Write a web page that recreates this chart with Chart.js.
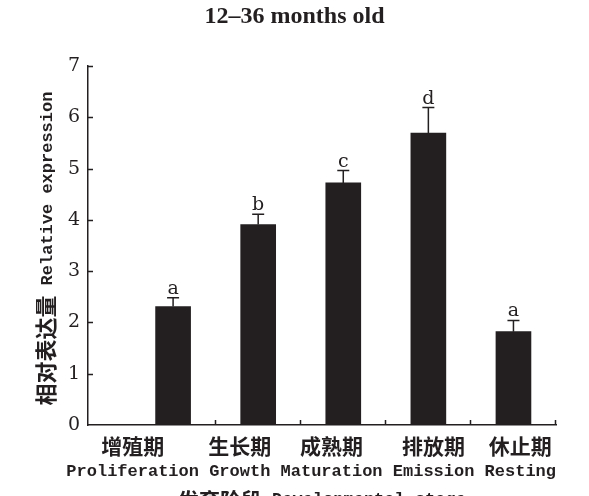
<!DOCTYPE html>
<html>
<head>
<meta charset="utf-8">
<script src="https://cdn.jsdelivr.net/npm/chart.js@4/dist/chart.umd.min.js"></script>
<style>
  html, body { margin: 0; padding: 0; background: #fff; overflow: hidden; }
  #wrap { width: 589px; height: 496px; }
</style>
</head>
<body>
<div id="wrap"><canvas id="chart" width="589" height="496"></canvas></div>
<script>
// ---- data ----
const chartTitle = '12\u201336 months old';
const stagesZh = ['增殖期', '生长期', '成熟期', '排放期', '休止期'];
const stagesEn = ['Proliferation', 'Growth', 'Maturation', 'Emission', 'Resting'];
const expression = [2.31, 3.91, 4.72, 5.69, 1.82];
const errorSD = [0.17, 0.20, 0.24, 0.50, 0.22];
const sigLetters = ['a', 'b', 'c', 'd', 'a'];
const yTitleZh = '相对表达量';
const yTitleEn = 'Relative expression';
const xTitleZh = '发育阶段';
const xTitleEn = 'Developmental stage';
const yMin = 0, yMax = 7, yStep = 1;

// ---- styling ----
const INK = '#231f20';
const MONO = '"Liberation Mono", "DejaVu Sans Mono", monospace';
const CJK = '"Noto Sans CJK SC", sans-serif';
const SERIF = '"Liberation Serif", serif';
const WIDE_SERIF = '"DejaVu Serif", serif';

// Error bars, significance letters, inward tick marks and all text labels
const decor = {
  id: 'decor',
  afterDatasetsDraw(chart) {
    const { ctx, chartArea: a, scales: { x, y } } = chart;
    ctx.save();
    ctx.strokeStyle = INK;
    ctx.fillStyle = INK;
    ctx.lineWidth = 1.5;

    // error bars with caps, letter above each cap
    expression.forEach((v, i) => {
      const cx = x.getPixelForValue(i);
      const yTop = y.getPixelForValue(v);
      const yErr = y.getPixelForValue(v + errorSD[i]);
      ctx.beginPath();
      ctx.moveTo(cx, yTop);
      ctx.lineTo(cx, yErr);
      ctx.moveTo(cx - 6, yErr);
      ctx.lineTo(cx + 6, yErr);
      ctx.stroke();
      ctx.font = `19px ${WIDE_SERIF}`;
      ctx.textAlign = 'center';
      ctx.textBaseline = 'alphabetic';
      ctx.fillText(sigLetters[i], cx, yErr - 4);
    });

    // inward ticks on the y axis
    ctx.beginPath();
    for (let v = yMin + yStep; v <= yMax; v += yStep) {
      const py = Math.round(y.getPixelForValue(v)) + 0.5;
      ctx.moveTo(a.left, py);
      ctx.lineTo(a.left + 5, py);
    }
    // inward ticks on the x axis, between categories
    stagesEn.forEach((_, i) => {
      const px = Math.round(x.getPixelForValue(i + 0.5)) - 0.5;
      ctx.moveTo(px, a.bottom);
      ctx.lineTo(px, a.bottom - 5);
    });
    ctx.stroke();
    ctx.restore();
  },
  afterDraw(chart) {
    const { ctx, chartArea: a, width } = chart;
    ctx.save();
    ctx.fillStyle = INK;

    // chart title
    ctx.font = `bold 24px ${SERIF}`;
    ctx.textAlign = 'center';
    ctx.textBaseline = 'top';
    ctx.fillText(chartTitle, width / 2, 5);

    // category labels: English names on one line ending at the axis end,
    // Chinese names centred over their English counterparts
    ctx.font = `bold 17px ${MONO}`;
    const enLine = stagesEn.join(' ');
    const lineStart = a.right - ctx.measureText(enLine).width;
    ctx.textAlign = 'left';
    ctx.textBaseline = 'alphabetic';
    ctx.fillText(enLine, lineStart, 476);
    const centres = stagesEn.map((w, i) => {
      const prefix = stagesEn.slice(0, i).join(' ') + (i ? ' ' : '');
      return lineStart + ctx.measureText(prefix).width + ctx.measureText(w).width / 2;
    });
    ctx.font = `bold 21px ${CJK}`;
    ctx.textAlign = 'center';
    ctx.textBaseline = 'middle';
    stagesZh.forEach((t, i) => ctx.fillText(t, centres[i], 446));

    // x axis title (Chinese part + English part)
    const gap = 10;
    ctx.font = `bold 21px ${CJK}`;
    const xzW = ctx.measureText(xTitleZh).width;
    ctx.font = `bold 17px ${MONO}`;
    const xeW = ctx.measureText(xTitleEn).width;
    let sx = (a.left + a.right) / 2 - (xzW + gap + xeW) / 2;
    ctx.textAlign = 'left';
    ctx.font = `bold 21px ${CJK}`;
    ctx.textBaseline = 'middle';
    ctx.fillText(xTitleZh, sx, 500);
    ctx.font = `bold 17px ${MONO}`;
    ctx.textBaseline = 'alphabetic';
    ctx.fillText(xTitleEn, sx + xzW + gap, 504);

    // y axis title, rotated
    ctx.font = `bold 22px ${CJK}`;
    const yzW = ctx.measureText(yTitleZh).width;
    ctx.font = `bold 17px ${MONO}`;
    const yeW = ctx.measureText(yTitleEn).width;
    ctx.translate(46, (a.top + a.bottom) / 2 + 3);
    ctx.rotate(-Math.PI / 2);
    const start = -(yzW + gap + yeW) / 2;
    ctx.textAlign = 'left';
    ctx.textBaseline = 'middle';
    ctx.font = `bold 22px ${CJK}`;
    ctx.fillText(yTitleZh, start, 0);
    ctx.font = `bold 17px ${MONO}`;
    ctx.textBaseline = 'alphabetic';
    ctx.fillText(yTitleEn, start + yzW + gap, 6);
    ctx.restore();
  }
};

new Chart(document.getElementById('chart'), {
  type: 'bar',
  data: {
    datasets: [{
      data: expression.map((v, i) => ({ x: i, y: v })),
      backgroundColor: INK,
      borderColor: INK,
      borderWidth: 0,
      barThickness: 35
    }]
  },
  options: {
    responsive: false,
    animation: false,
    layout: { padding: { top: 66, right: 33, bottom: 0, left: 0 } },
    plugins: { legend: { display: false }, tooltip: { enabled: false }, title: { display: false } },
    scales: {
      x: {
        type: 'linear',
        min: -1,
        max: stagesEn.length - 0.5,
        offset: false,
        grid: { display: true, drawOnChartArea: false, drawTicks: false, offset: false },
        border: { display: true, color: INK, width: 1.5 },
        ticks: { display: false },
        afterFit: s => { s.height = 71; }
      },
      y: {
        min: yMin,
        max: yMax,
        grid: { display: true, drawOnChartArea: false, drawTicks: false },
        border: { display: true, color: INK, width: 1.5 },
        ticks: {
          stepSize: yStep,
          padding: 8,
          color: INK,
          font: { family: WIDE_SERIF, size: 19 }
        },
        afterFit: s => { s.width = 88; }
      }
    }
  },
  plugins: [decor]
});
</script>
</body>
</html>
